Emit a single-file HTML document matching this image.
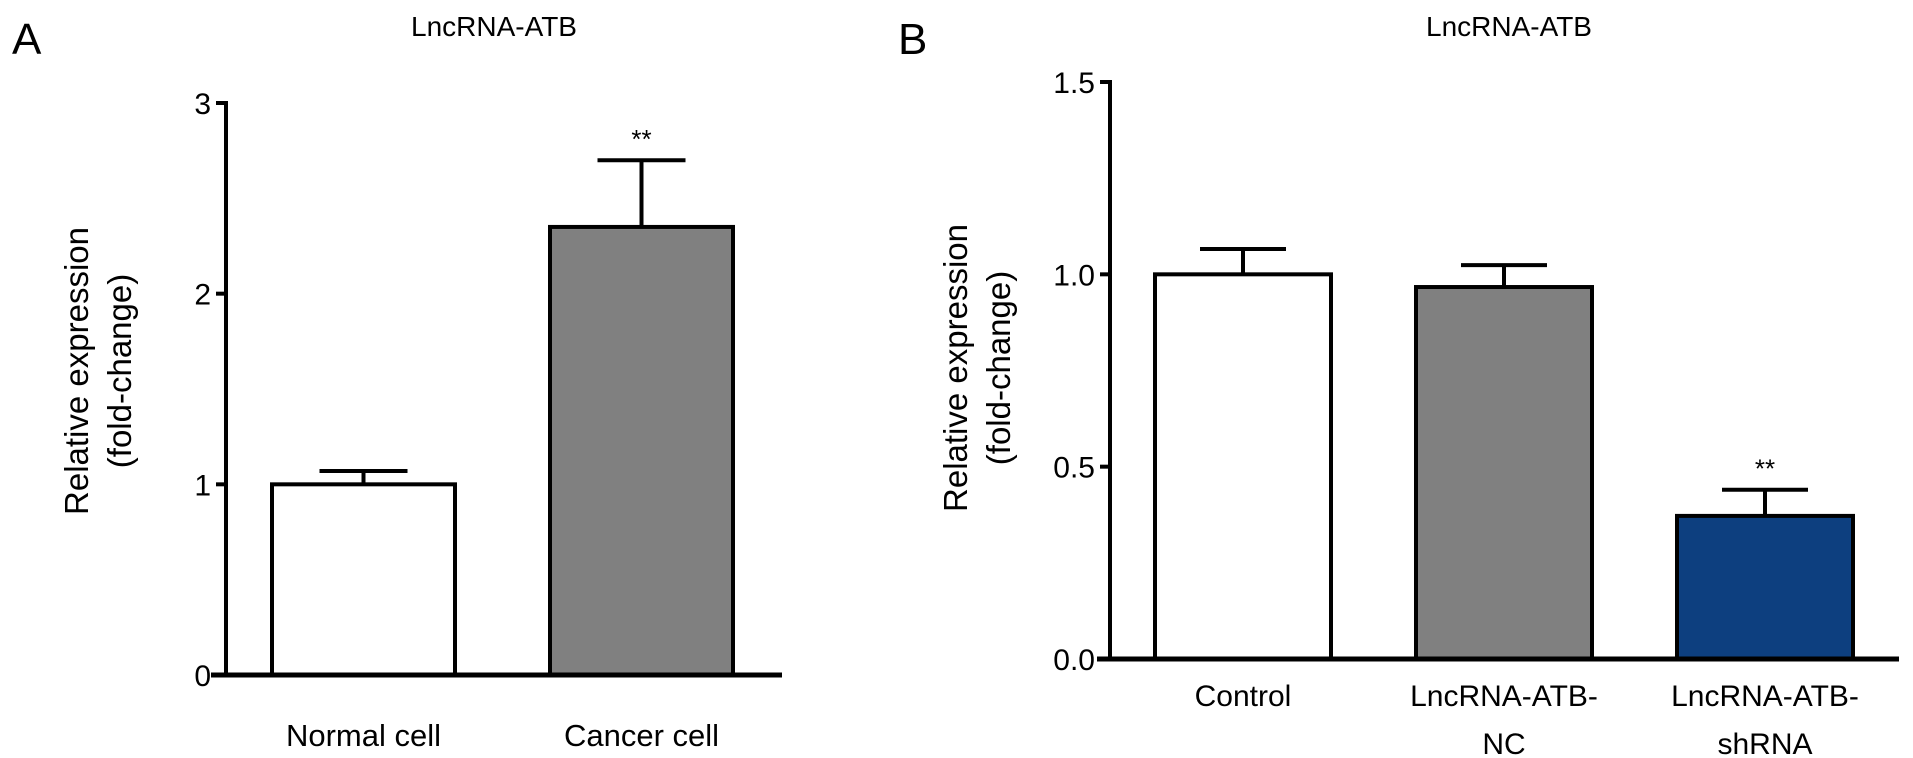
<!DOCTYPE html>
<html><head><meta charset="utf-8"><style>
html,body{margin:0;padding:0;background:#fff;}
svg{display:block;font-family:"Liberation Sans",Arial,sans-serif;}
</style></head><body>
<svg id="fig" width="1913" height="758" viewBox="0 0 1913 758" xmlns="http://www.w3.org/2000/svg">
<text x="12" y="54" font-size="44">A</text>
<text x="494" y="36" font-size="28" text-anchor="middle">LncRNA-ATB</text>
<g transform="translate(88,371) rotate(-90)">
<text x="0" y="0" font-size="33" text-anchor="middle">Relative expression</text>
<text x="0" y="43" font-size="33" text-anchor="middle">(fold-change)</text>
</g>
<text x="898" y="54" font-size="44">B</text>
<text x="1509" y="36" font-size="28" text-anchor="middle">LncRNA-ATB</text>
<g transform="translate(967,368) rotate(-90)">
<text x="0" y="0" font-size="33" text-anchor="middle">Relative expression</text>
<text x="0" y="43" font-size="33" text-anchor="middle">(fold-change)</text>
</g>
<g id="pa"></g>
<g id="pb"></g>
</svg>
<script>
const aCategories = [["Normal cell"], ["Cancer cell"]];
const aValues = [1.0, 2.35];
const aErrors = [0.07, 0.35];
const aSig = ["", "**"];
const aTicks = [0, 1, 2, 3];
const aTickLabels = ["0", "1", "2", "3"];

const bCategories = [["Control"], ["LncRNA-ATB-", "NC"], ["LncRNA-ATB-", "shRNA"]];
const bValues = [1.0, 0.967, 0.372];
const bErrors = [0.066, 0.057, 0.068];
const bSig = ["", "", "**"];
const bTicks = [0, 0.5, 1.0, 1.5];
const bTickLabels = ["0.0", "0.5", "1.0", "1.5"];

const NS = "http://www.w3.org/2000/svg";
function mk(parent, tag, attrs, text) {
  const el = document.createElementNS(NS, tag);
  for (const k in attrs) el.setAttribute(k, attrs[k]);
  if (text !== undefined) el.textContent = text;
  parent.appendChild(el);
  return el;
}

function drawPanel(g, cfg, cats, vals, errs, sig, ticks, tickLabels, fills, prefix) {
  const y = v => cfg.y0 - (v - cfg.ymin) / (cfg.ymax - cfg.ymin) * (cfg.y0 - cfg.ytop);
  const x = i => cfg.xStart + i * cfg.step;
  vals.forEach((v, i) => {
    const bx = x(i);
    const r = mk(g, "rect", {x: bx, y: y(v), width: cfg.bw, height: y(0) - y(v), fill: fills[i], stroke: "#000", "stroke-width": 4});
    
    
    const cx = bx + cfg.bw / 2;
    const e = mk(g, "path", {d: "M" + cx + " " + y(v) + "V" + y(v + errs[i]) + "M" + (cx - cfg.cap) + " " + y(v + errs[i]) + "H" + (cx + cfg.cap), stroke: "#000", "stroke-width": 4, fill: "none"});
    
    
    if (sig[i]) {
      const s = mk(g, "text", {x: cx, y: y(v + errs[i]) - 12, "font-size": 26, "text-anchor": "middle"}, sig[i]);
      
      
    }
    const lab = mk(g, "text", {x: cx, y: cfg.labelY, "font-size": cfg.labelSize, "text-anchor": "middle"});
    
    
    cats[i].forEach((line, j) => {
      mk(lab, "tspan", {x: cx, dy: j === 0 ? 0 : 48}, line);
    });
  });
  const ax = mk(g, "line", {x1: cfg.ax, x2: cfg.ax, y1: y(cfg.ymax) - 2, y2: y(0), stroke: "#000", "stroke-width": 4});
  
  
  ticks.forEach((t, i) => {
    const tk = mk(g, "line", {x1: cfg.ax - 10, x2: cfg.ax, y1: y(t), y2: y(t), stroke: "#000", "stroke-width": 4});
    
    
    const tl = mk(g, "text", {x: cfg.ax - 15, y: y(t) + 11, "font-size": 30, "text-anchor": "end"}, tickLabels[i]);
    
    
  });
  const xa = mk(g, "line", {x1: cfg.xaL, x2: cfg.xaR, y1: y(0), y2: y(0), stroke: "#000", "stroke-width": 5});
  
  
}

drawPanel(document.getElementById("pa"),
  {y0: 675, ytop: 103, ymin: 0, ymax: 3, ax: 226, xStart: 272, step: 278, bw: 183, cap: 44, labelY: 746, labelSize: 31, xaL: 211, xaR: 782},
  aCategories, aValues, aErrors, aSig, aTicks, aTickLabels, ["#ffffff", "#808080"], "panel-a");

drawPanel(document.getElementById("pb"),
  {y0: 659, ytop: 82, ymin: 0, ymax: 1.5, ax: 1110, xStart: 1155, step: 261, bw: 176, cap: 43, labelY: 706, labelSize: 30, xaL: 1097, xaR: 1899},
  bCategories, bValues, bErrors, bSig, bTicks, bTickLabels, ["#ffffff", "#808080", "#0d3f7f"], "panel-b");
</script>
</body></html>
